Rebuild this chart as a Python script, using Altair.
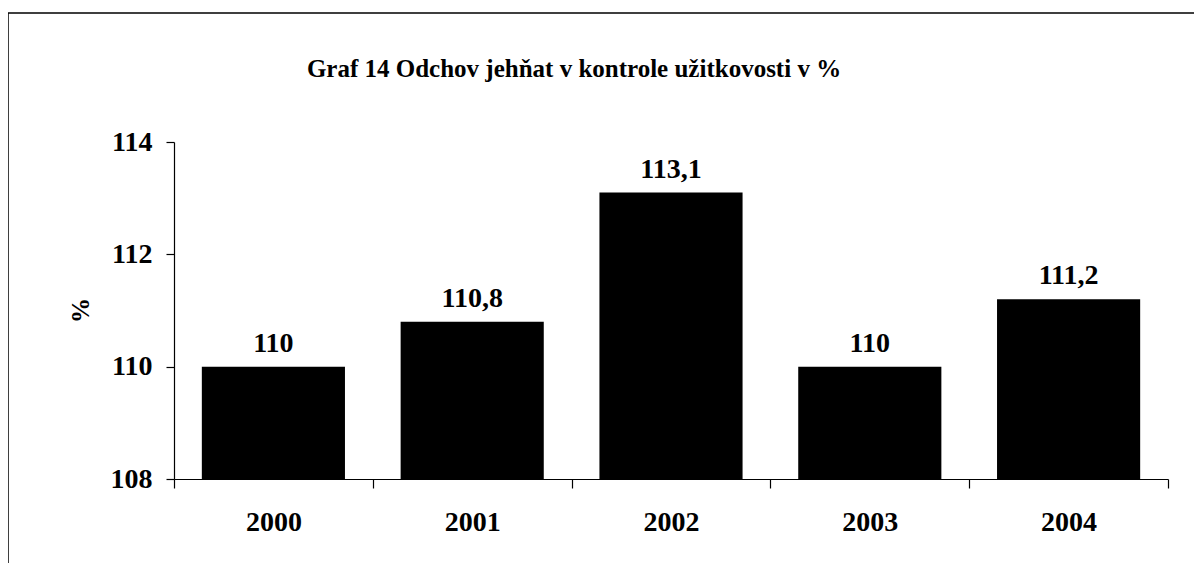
import altair as alt
import pandas as pd

title_text = "Graf 14 Odchov jehňat v kontrole užitkovosti v %"
years = ["2000", "2001", "2002", "2003", "2004"]
values = [110.0, 110.8, 113.1, 110.0, 111.2]
labels = ["110", "110,8", "113,1", "110", "111,2"]

df = pd.DataFrame({"rok": years, "hodnota": values, "popis": labels})

FONT = "Liberation Serif"

base = alt.Chart(df)

bars = base.mark_bar(color="black", width=alt.RelativeBandSize(0.72), clip=True).encode(
    x=alt.X(
        "rok:N",
        sort=years,
        scale=alt.Scale(paddingInner=0, paddingOuter=0),
        axis=alt.Axis(
            title=None,
            labelAngle=0,
            tickBand="extent",
            tickSize=9,
            labelPadding=20,
            domainColor="black",
            tickColor="black",
            domainWidth=1.2,
            tickWidth=1.2,
            labelFont=FONT,
            labelFontSize=28,
            labelFontWeight="bold",
            labelColor="black",
            grid=False,
        ),
    ),
    y=alt.Y(
        "hodnota:Q",
        scale=alt.Scale(domain=[108, 114], zero=False, nice=False),
        axis=alt.Axis(
            title="%",
            values=[108, 110, 112, 114],
            format="d",
            tickSize=8,
            labelPadding=14,
            domainColor="black",
            tickColor="black",
            domainWidth=1.2,
            tickWidth=1.2,
            labelFont=FONT,
            labelFontSize=28,
            labelFontWeight="bold",
            labelColor="black",
            titleFont=FONT,
            titleFontSize=25,
            titleFontWeight="bold",
            titleColor="black",
            titleAngle=270,
            titleAlign="center",
            titleBaseline="middle",
            titleX=-94,
            titleY=168,
            grid=False,
        ),
    ),
)

text = base.mark_text(
    dy=-15, baseline="alphabetic", font=FONT, fontSize=28, fontWeight="bold", color="black"
).encode(
    x=alt.X("rok:N", sort=years),
    y=alt.Y("hodnota:Q"),
    text="popis:N",
)

frame = alt.Chart(alt.Data(values=[{"f": 1}])).mark_rect(
    filled=False, stroke="black", strokeWidth=1.5
).encode(
    x=alt.value(-166),
    x2=alt.value(1200),
    y=alt.value(-129),
    y2=alt.value(700),
)

title = alt.Chart(alt.Data(values=[{"t": title_text}])).mark_text(
    font=FONT, fontSize=25, fontWeight="bold", color="black",
    align="center", baseline="alphabetic",
).encode(
    x=alt.value(400),
    y=alt.value(-65),
    text="t:N",
)

chart = (
    alt.layer(frame, bars, text, title)
    .properties(
        width=994,
        height=337,
        view=alt.ViewBackground(strokeWidth=0, strokeOpacity=0),
        autosize=alt.AutoSizeParams(type="none"),
        padding={"left": 166, "top": 134, "right": 26, "bottom": 84},
    )
    .configure_view(stroke="transparent")
    .configure(background="white")
)

chart.save("out.html", embed_options={"renderer": "svg", "actions": False})
